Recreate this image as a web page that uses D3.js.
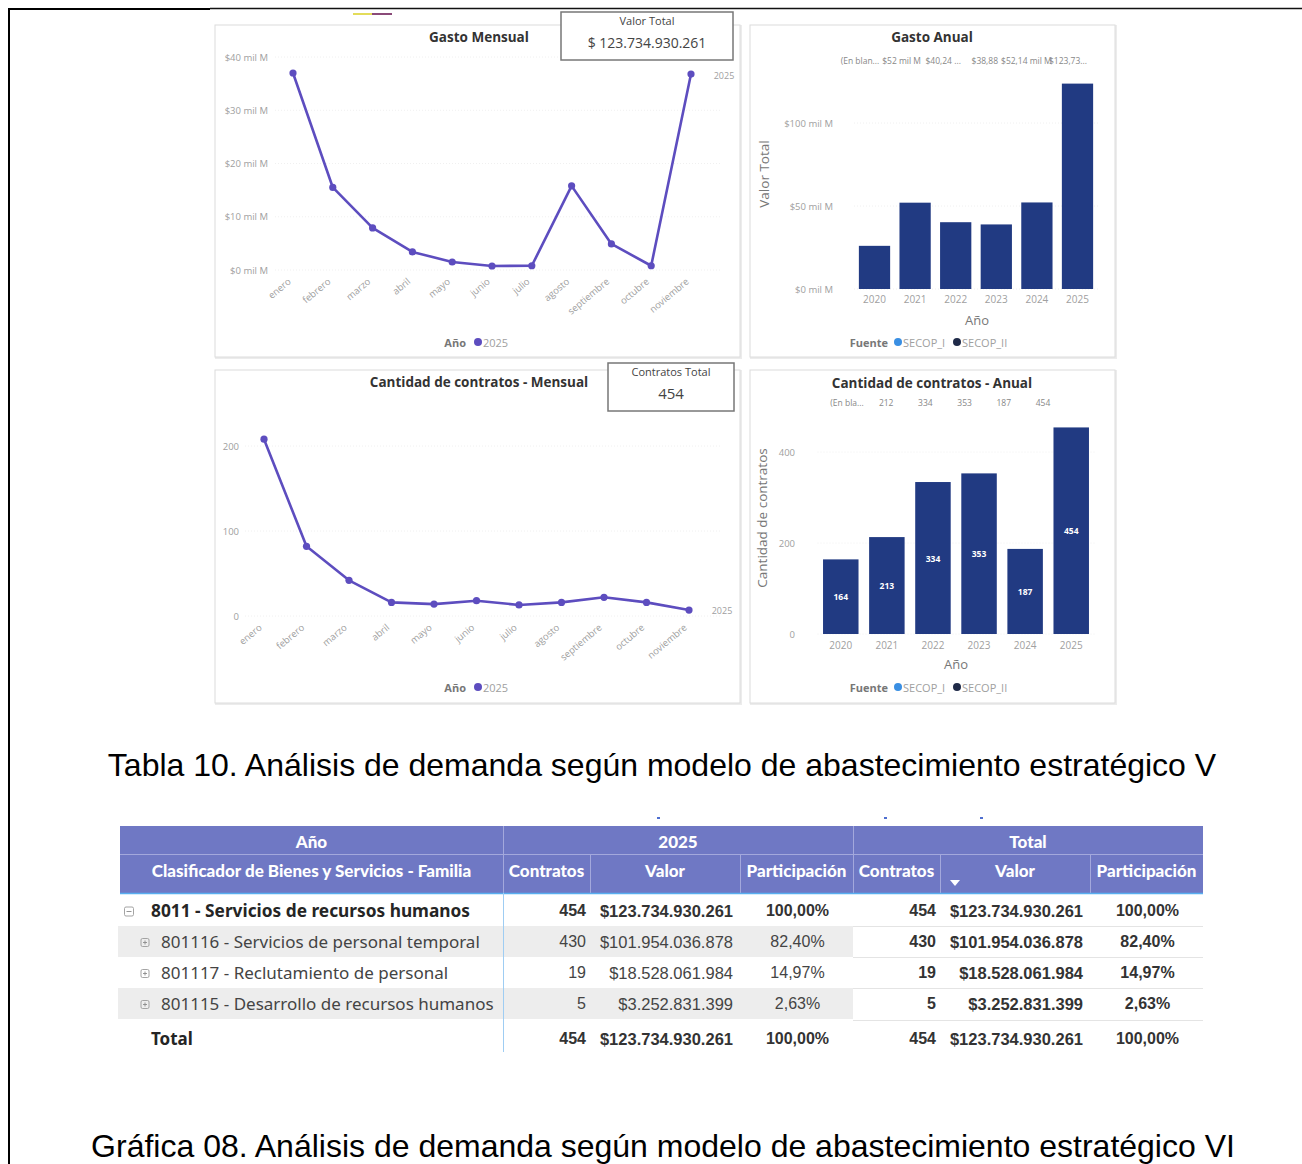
<!DOCTYPE html>
<html><head><meta charset="utf-8">
<script src="https://cdn.jsdelivr.net/npm/d3@7"></script>
<style>body{margin:0;background:#fff} svg{display:block}</style>
</head><body>
<svg id="c" width="1302" height="1164"></svg>
<script>
// ---------- DATA ----------
const months = ["enero","febrero","marzo","abril","mayo","junio","julio","agosto","septiembre","octubre","noviembre"];
const gastoMensual = [37.0, 15.5, 7.9, 3.4, 1.5, 0.75, 0.8, 15.8, 4.9, 0.8, 36.8]; // mil M
const contratosMensual = [208, 82, 42, 16, 14, 18, 13, 16, 22, 16, 7];
const years = ["2020","2021","2022","2023","2024","2025"];
const gastoAnual = [26, 52, 40.24, 38.9, 52.14, 123.73]; // mil M
const gastoAnualTopLabels = ["(En blan...","$52 mil M","$40,24 ...","$38,88","$52,14 mil M","$123,73..."];
const contratosAnual = [164, 213, 334, 353, 187, 454];
const contratosAnualTopLabels = ["(En bla...","212","334","353","187","454"];
const gastoTicks = [0,10,20,30,40];
const gastoAnualTicks = [0,50,100];
const contratosTicks = [0,100,200];
const contratosAnualTicks = [0,200,400];
const valorTotal = 123734930261;
const contratosTotal = 454;
const seriesYear = "2025";
const fuentes = ["SECOP_I","SECOP_II"];

const tableLabels = ["8011 - Servicios de recursos humanos","801116 - Servicios de personal temporal","801117 - Reclutamiento de personal","801115 - Desarrollo de recursos humanos","Total"];
const tableLevels = [0,1,1,1,-1];
const tableContratos = [454,430,19,5,454];
const tableValores = [123734930261,101954036878,18528061984,3252831399,123734930261];
const tableParticipacion = [100.00,82.40,14.97,2.63,100.00];
const tableHeaders = ["Clasificador de Bienes y Servicios - Familia","Contratos","Valor","Participación","Contratos","Valor","Participación"];
const tableTopHeaders = ["Año","2025","Total"];

const caption1 = "Tabla 10. Análisis de demanda según modelo de abastecimiento estratégico V";
const caption2 = "Gráfica 08. Análisis de demanda según modelo de abastecimiento estratégico VI";

// ---------- STYLE ----------
const svg = d3.select("#c");
const PURPLE = "#5d4dbf";
const NAVY = "#213a82";
const GRAY = "#a0a0a0";
const TITLE = "#333";
const FONT = "'Open Sans', 'Noto Sans', sans-serif";
const loc = d3.formatLocale({decimal:",", thousands:".", grouping:[3], currency:["$",""]});
const fmtMoney = loc.format("$,.0f");
const fmtPct = v => loc.format(".2f")(v) + "%";
const fmtInt = loc.format(",.0f");

// frame
svg.append("line").attr("x1",8).attr("x2",210).attr("y1",9).attr("y2",9).attr("stroke","#000").attr("stroke-width",2);
svg.append("line").attr("x1",210).attr("x2",1302).attr("y1",8.5).attr("y2",8.5).attr("stroke","#111").attr("stroke-width",1.5);
svg.append("line").attr("x1",9).attr("x2",9).attr("y1",8).attr("y2",1164).attr("stroke","#000").attr("stroke-width",2);
svg.append("rect").attr("x",353).attr("y",13).attr("width",19).attr("height",2).attr("fill","#e3dc5a");
svg.append("rect").attr("x",372).attr("y",13).attr("width",20).attr("height",2).attr("fill","#8a4a78");

// panels
const panels = [{x:215,y:25,w:525,h:332},{x:750,y:25,w:365,h:332},{x:215,y:370,w:525,h:333},{x:750,y:370,w:365,h:333}];
panels.forEach(p=>{
  svg.append("rect").attr("x",p.x+1).attr("y",p.y+1).attr("width",p.w).attr("height",p.h).attr("fill","none").attr("stroke","#ececec").attr("stroke-width",2);
  svg.append("rect").attr("x",p.x).attr("y",p.y).attr("width",p.w).attr("height",p.h).attr("fill","#fff").attr("stroke","#dcdcdc").attr("stroke-width",1);
});

function title(x,y,t){
  svg.append("text").attr("x",x).attr("y",y).attr("text-anchor","middle").attr("dominant-baseline","central")
    .attr("font-family",FONT).attr("font-weight","bold").attr("font-size",13.5).attr("fill",TITLE).text(t);
}
function card(x,y,w,h,t,v,vs){
  svg.append("rect").attr("x",x).attr("y",y).attr("width",w).attr("height",h).attr("fill","#fff").attr("stroke","#777").attr("stroke-width",1.5);
  svg.append("text").attr("x",x+w/2).attr("y",y+8).attr("text-anchor","middle").attr("dominant-baseline","central")
    .attr("font-family",FONT).attr("font-size",11).attr("fill","#444").text(t);
  svg.append("text").attr("x",x+w/2).attr("y",y+30).attr("text-anchor","middle").attr("dominant-baseline","central")
    .attr("font-family",FONT).attr("font-size",vs).attr("fill","#444").text(v);
}

// ---------- LINE CHART ----------
function lineChart(o){
  const x = d3.scalePoint().domain(months).range(o.xr);
  const y = d3.scaleLinear().domain(o.yd).range(o.yr);
  const g = svg.append("g");
  g.selectAll(".gl").data(o.ticks).join("line")
    .attr("x1",o.gx[0]).attr("x2",o.gx[1]).attr("y1",d=>y(d)).attr("y2",d=>y(d))
    .attr("stroke","#f0f0f0").attr("stroke-dasharray","1,2");
  const ya = d3.axisLeft(y).tickValues(o.ticks).tickFormat(o.tf).tickSize(0).tickPadding(0);
  const yg = g.append("g").attr("transform",`translate(${o.yx},0)`).call(ya);
  yg.select(".domain").remove();
  yg.selectAll("text").attr("font-family",FONT).attr("font-size",9.5).attr("fill",GRAY);
  const xa = d3.axisBottom(x).tickSize(0).tickPadding(0);
  const xg = g.append("g").attr("transform",`translate(0,${o.lx})`).call(xa);
  xg.select(".domain").remove();
  xg.selectAll("text").attr("font-family",FONT).attr("font-size",9.5).attr("fill",GRAY)
    .attr("text-anchor","end").attr("dy","0.35em").attr("transform","translate(-4,0) rotate(-40)");
  const line = d3.line().x((d,i)=>x(months[i])).y(d=>y(d));
  g.append("path").datum(o.data).attr("d",line).attr("fill","none").attr("stroke",PURPLE).attr("stroke-width",2.6).attr("stroke-linejoin","round");
  g.selectAll(".pt").data(o.data).join("circle").attr("cx",(d,i)=>x(months[i])).attr("cy",d=>y(d)).attr("r",3.6).attr("fill",PURPLE);
  g.append("text").attr("x",o.sl[0]).attr("y",o.sl[1]).attr("text-anchor","middle").attr("dominant-baseline","central")
    .attr("font-family",FONT).attr("font-size",9).attr("fill",GRAY).text(seriesYear);
  const lg = g.append("g").attr("transform",`translate(0,${o.leg})`);
  lg.append("text").attr("x",466).attr("y",0).attr("text-anchor","end").attr("dominant-baseline","central")
    .attr("font-family",FONT).attr("font-weight","bold").attr("font-size",11).attr("fill","#777").text("Año");
  lg.append("circle").attr("cx",478).attr("cy",0).attr("r",4).attr("fill",PURPLE);
  lg.append("text").attr("x",483).attr("y",0).attr("dominant-baseline","central")
    .attr("font-family",FONT).attr("font-size",11).attr("fill",GRAY).text(seriesYear);
}

title(479,37,"Gasto Mensual");
lineChart({xr:[293,691], yd:[0,40], yr:[270,57], ticks:gastoTicks, tf:d=>"$"+d+" mil M", yx:268,
  gx:[275,722], lx:280, data:gastoMensual, sl:[724,75], leg:342});
card(561,12,172,48,"Valor Total","$ "+fmtInt(valorTotal),14);

title(479,382,"Cantidad de contratos - Mensual");
lineChart({xr:[264,689], yd:[0,200], yr:[616,446], ticks:contratosTicks, tf:d=>d, yx:239,
  gx:[245,722], lx:626, data:contratosMensual, sl:[722,610], leg:687});
card(608,363,126,48,"Contratos Total",fmtInt(contratosTotal),15);

// ---------- BAR CHART ----------
function barChart(o){
  const x = d3.scaleBand().domain(years).range(o.xr).paddingInner(0.23).paddingOuter(0.12);
  const y = d3.scaleLinear().domain(o.yd).range(o.yr);
  const g = svg.append("g");
  g.selectAll(".gl").data(o.ticks).join("line")
    .attr("x1",o.xr[0]).attr("x2",o.xr[1]).attr("y1",d=>y(d)).attr("y2",d=>y(d))
    .attr("stroke","#f0f0f0").attr("stroke-dasharray","1,2");
  const ya = d3.axisLeft(y).tickValues(o.ticks).tickFormat(o.tf).tickSize(0).tickPadding(0);
  const yg = g.append("g").attr("transform",`translate(${o.yx},0)`).call(ya);
  yg.select(".domain").remove();
  yg.selectAll("text").attr("font-family",FONT).attr("font-size",9.5).attr("fill",GRAY);
  const xa = d3.axisBottom(x).tickSize(0).tickPadding(0);
  const xg = g.append("g").attr("transform",`translate(0,${o.lx})`).call(xa);
  xg.select(".domain").remove();
  xg.selectAll("text").attr("font-family",FONT).attr("font-size",10).attr("fill",GRAY).attr("dy","0.35em");
  g.selectAll(".bar").data(o.data).join("rect")
    .attr("x",(d,i)=>x(years[i])).attr("width",x.bandwidth())
    .attr("y",d=>y(d)).attr("height",d=>y(0)-y(d)).attr("fill",NAVY);
  if(o.inside){
    g.selectAll(".il").data(o.data).join("text")
      .attr("x",(d,i)=>x(years[i])+x.bandwidth()/2).attr("y",d=>(y(d)+y(0))/2)
      .attr("text-anchor","middle").attr("dominant-baseline","central")
      .attr("font-family",FONT).attr("font-weight","bold").attr("font-size",8.5).attr("fill","#fff").text(d=>d);
  }
  const tx = d3.scalePoint().domain(years).range(o.tr);
  g.selectAll(".tl").data(o.top).join("text")
    .attr("x",(d,i)=>tx(years[i])).attr("y",o.ty).attr("text-anchor","middle").attr("dominant-baseline","central")
    .attr("font-family",FONT).attr("font-size",8.5).attr("fill","#888").text(d=>d);
  g.append("text").attr("transform",`translate(${o.at[0]},${o.at[1]}) rotate(-90)`).attr("text-anchor","middle").attr("dominant-baseline","central")
    .attr("font-family",FONT).attr("font-size",13.5).attr("fill","#777").text(o.ytitle);
  g.append("text").attr("x",o.xt[0]).attr("y",o.xt[1]).attr("text-anchor","middle").attr("dominant-baseline","central")
    .attr("font-family",FONT).attr("font-size",13).attr("fill","#777").text("Año");
  const lg = g.append("g").attr("transform",`translate(0,${o.leg})`);
  lg.append("text").attr("x",888).attr("y",0).attr("text-anchor","end").attr("dominant-baseline","central")
    .attr("font-family",FONT).attr("font-weight","bold").attr("font-size",11).attr("fill","#777").text("Fuente");
  const cols = ["#3a8fe3","#1f2a48"];
  const lx = [898,957];
  fuentes.forEach((f,i)=>{
    lg.append("circle").attr("cx",lx[i]).attr("cy",0).attr("r",4).attr("fill",cols[i]);
    lg.append("text").attr("x",lx[i]+5).attr("y",0).attr("dominant-baseline","central")
      .attr("font-family",FONT).attr("font-size",11).attr("fill",GRAY).text(f);
  });
}

title(932,37,"Gasto Anual");
barChart({xr:[854,1098], yd:[0,100], yr:[289,123], ticks:gastoAnualTicks, tf:d=>"$"+d+" mil M", yx:833,
  lx:299, data:gastoAnual, inside:false, top:gastoAnualTopLabels, tr:[860,1068], ty:60,
  ytitle:"Valor Total", at:[764,174], xt:[977,320], leg:342});

title(932,383,"Cantidad de contratos - Anual");
barChart({xr:[817.5,1094.5], yd:[0,400], yr:[634,452], ticks:contratosAnualTicks, tf:d=>d, yx:795,
  lx:645, data:contratosAnual, inside:true, top:contratosAnualTopLabels, tr:[847,1043], ty:402,
  ytitle:"Cantidad de contratos", at:[762,518], xt:[956,664], leg:687});

// ---------- CAPTIONS ----------
svg.append("text").attr("x",662).attr("y",776).attr("text-anchor","middle")
  .attr("font-family","'Liberation Sans', Arial, sans-serif").attr("font-size",32).attr("fill","#000").text(caption1);
svg.append("text").attr("x",663).attr("y",1157).attr("text-anchor","middle")
  .attr("font-family","'Liberation Sans', Arial, sans-serif").attr("font-size",32).attr("fill","#000").text(caption2);

// ---------- TABLE ----------
const colEdges = [120,503,590,740,853,940,1090,1203];
const HB = "#6f78c4";
const tg = svg.append("g");
[657,884,980].forEach(x=>tg.append("rect").attr("x",x).attr("y",817).attr("width",3).attr("height",2).attr("fill","#4f6fd0"));
tg.append("rect").attr("x",120).attr("y",826).attr("width",1083).attr("height",67).attr("fill",HB);
tg.append("line").attr("x1",120).attr("x2",1203).attr("y1",854.5).attr("y2",854.5).attr("stroke","#a3a8dc").attr("stroke-width",1);
[503,853].forEach(x=>tg.append("line").attr("x1",x+0.5).attr("x2",x+0.5).attr("y1",826).attr("y2",893).attr("stroke","#a3a8dc"));
[590,740,940,1090].forEach(x=>tg.append("line").attr("x1",x+0.5).attr("x2",x+0.5).attr("y1",855).attr("y2",893).attr("stroke","#a3a8dc"));
const topSpans = [[120,503],[503,853],[853,1203]];
const HF = "Lato, 'Open Sans', sans-serif";
tableTopHeaders.forEach((t,i)=>{
  tg.append("text").attr("x",(topSpans[i][0]+topSpans[i][1])/2).attr("y",841).attr("text-anchor","middle").attr("dominant-baseline","central")
    .attr("font-family",HF).attr("font-weight","900").attr("font-size",17).attr("fill","#fff").text(t);
});
tableHeaders.forEach((t,i)=>{
  tg.append("text").attr("x",(colEdges[i]+colEdges[i+1])/2).attr("y",870).attr("text-anchor","middle").attr("dominant-baseline","central")
    .attr("font-family",HF).attr("font-weight","900").attr("font-size",17).attr("fill","#fff").text(t);
});
tg.append("path").attr("d","M950,880 L960,880 L955,886 Z").attr("fill","#fff");
tg.append("line").attr("x1",120).attr("x2",1203).attr("y1",893.5).attr("y2",893.5).attr("stroke","#58aef0").attr("stroke-width",1.5);

const rowTops = [895,926,957,988,1020];
const rowH = [31,31,31,31,35];
const NF = "'Liberation Sans', Arial, sans-serif";
tableLabels.forEach((lab,i)=>{
  const top = rowTops[i], h = rowH[i], cy = top + h/2 + (i===4?1:0);
  if(i===1 || i===3) tg.append("rect").attr("x",118).attr("y",top).attr("width",735).attr("height",h).attr("fill","#ededed");
  if(i>0) tg.append("line").attr("x1",853).attr("x2",1203).attr("y1",top+0.5).attr("y2",top+0.5).attr("stroke","#e4e4e4");
  const lvl = tableLevels[i];
  const bold = (lvl===0 || lvl===-1);
  if(lvl>=0){
    const ix = lvl===0 ? 129 : 145, s = lvl===0 ? 9 : 8;
    tg.append("rect").attr("x",ix-s/2).attr("y",cy-s/2+1).attr("width",s).attr("height",s).attr("rx",1.5).attr("fill","none").attr("stroke","#9a9a9a").attr("stroke-width",0.9);
    tg.append("line").attr("x1",ix-s/2+2).attr("x2",ix+s/2-2).attr("y1",cy+1).attr("y2",cy+1).attr("stroke","#8a8a8a").attr("stroke-width",0.9);
    if(lvl===1) tg.append("line").attr("x1",ix).attr("x2",ix).attr("y1",cy-s/2+3).attr("y2",cy+s/2-1).attr("stroke","#8a8a8a").attr("stroke-width",0.9);
  }
  const tx = lvl===1 ? 161 : 151;
  tg.append("text").attr("x",tx).attr("y",cy).attr("dominant-baseline","central")
    .attr("font-family","'Noto Sans', 'Open Sans', sans-serif").attr("font-weight",bold?"bold":"normal")
    .attr("font-size",lvl===0?17.3:(lvl===1?17:17)).attr("fill",bold?"#252525":"#444").text(lab);
  [[0,false],[1,true]].forEach(([k,isTotal])=>{
    const off = k*3;
    const b = bold || isTotal;
    const col = b ? "#333" : "#444";
    tg.append("text").attr("x",colEdges[2+off]-4).attr("y",cy).attr("text-anchor","end").attr("dominant-baseline","central")
      .attr("font-family",NF).attr("font-weight",b?"bold":"normal").attr("font-size",16).attr("fill",col).text(fmtInt(tableContratos[i]));
    tg.append("text").attr("x",colEdges[3+off]-7).attr("y",cy).attr("text-anchor","end").attr("dominant-baseline","central")
      .attr("font-family",NF).attr("font-weight",b?"bold":"normal").attr("font-size",16.5).attr("fill",col).text(fmtMoney(tableValores[i]));
    tg.append("text").attr("x",(colEdges[3+off]+colEdges[4+off])/2+1).attr("y",cy).attr("text-anchor","middle").attr("dominant-baseline","central")
      .attr("font-family",NF).attr("font-weight",b?"bold":"normal").attr("font-size",16).attr("fill",col).text(fmtPct(tableParticipacion[i]));
  });
});
tg.append("line").attr("x1",503.5).attr("x2",503.5).attr("y1",893).attr("y2",1052).attr("stroke","#9fcdf3").attr("stroke-width",1);
</script>
</body></html>
